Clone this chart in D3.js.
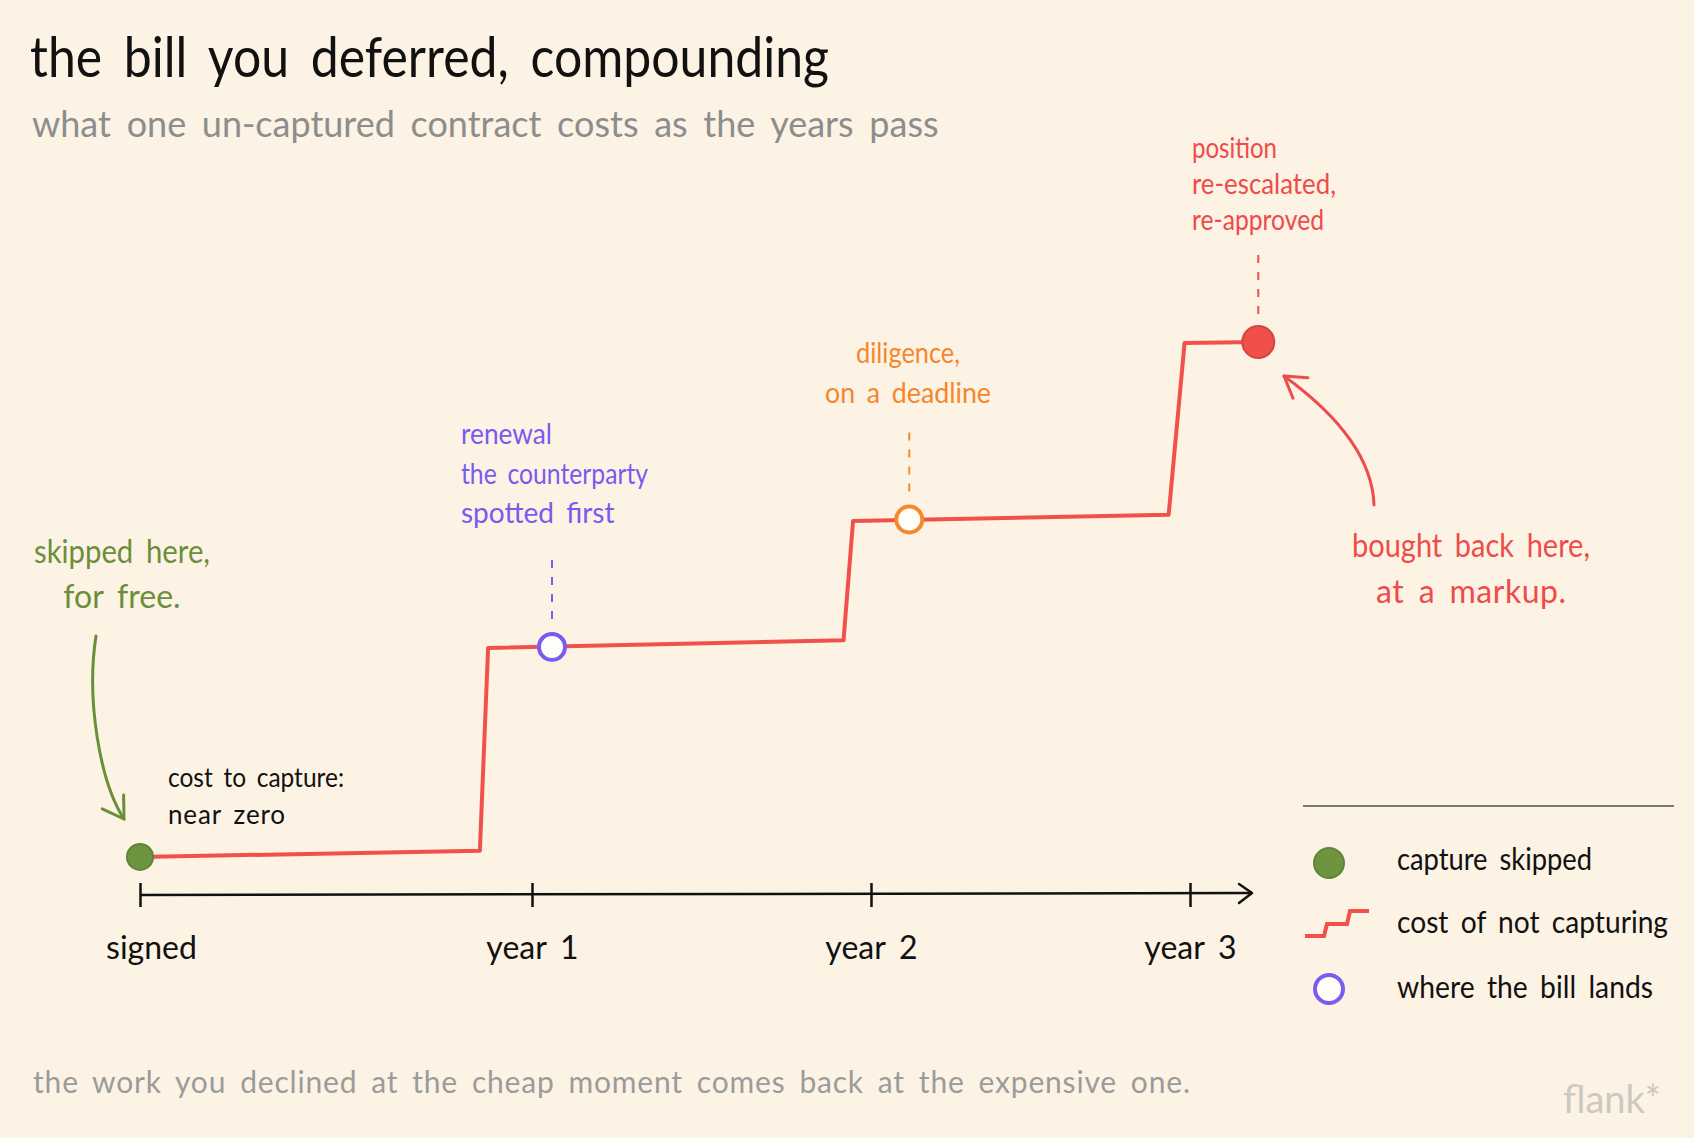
<!DOCTYPE html>
<html>
<head>
<meta charset="utf-8">
<script src="https://cdn.jsdelivr.net/npm/d3@7"></script>
<style>
  html, body { margin: 0; padding: 0; background: #fcf3e4; }
  svg { display: block; }
  text { font-family: Lato, "Open Sans", sans-serif; word-spacing: 0.18em; }
</style>
</head>
<body>
<svg id="chart" width="1694" height="1138"></svg>
<script>
/**
 * DATA
 */
// axis
var tickValues = [0, 1, 2, 3];
var tickLabels = ["signed", "year 1", "year 2", "year 3"];

// stepped cost line: years since signing, relative cost (top = 100)
var stepYears = [0, 0.867, 0.888, 1.919, 1.947, 2.933, 2.983, 3.214];
var stepCost  = [0.2, 1.4, 40.7, 42.2, 65.3, 66.5, 99.8, 100];

// the moments on the line
var markerYears  = [0, 1.059, 2.12, 3.214];
var markerCost   = [0.2, 40.9, 65.6, 100];
var markerKinds  = ["solid", "ring", "ring", "solid"];
var markerColors = ["#6f9440", "#7a5cf0", "#f5892e", "#f04f4a"];

var legendLabels = ["capture skipped", "cost of not capturing", "where the bill lands"];

var titleText    = "the bill you deferred, compounding";
var subtitleText = "what one un-captured contract costs as the years pass";
var footerText   = "the work you declined at the cheap moment comes back at the expensive one.";

var skippedNote    = ["skipped here,", "for free."];
var captureNote    = ["cost to capture:", "near zero"];
var renewalNote    = ["renewal", "the counterparty", "spotted first"];
var diligenceNote  = ["diligence,", "on a deadline"];
var escalationNote = ["position", "re-escalated,", "re-approved"];
var boughtNote     = ["bought back here,", "at a markup."];

/**
 * SETUP
 */
var svg = d3.select("#chart");
var AXIS_Y = 895;
var LINE_RED = "#f0524b";

// years -> x, hand drawn so the years are not evenly spaced
var xScale = d3.scaleLinear().domain([0, 1, 2, 3]).range([140, 532, 871, 1190]);
var yScale = d3.scaleLinear().domain([0, 100]).range([858, 342]);

// squeeze or widen a text so it covers the same width as in the sketch
function fitText(sel, target) {
    sel.each(function() {
        var w = this.getComputedTextLength();
        if (Math.abs(w - target) / target > 0.02) {
            d3.select(this)
                .attr("textLength", target)
                .attr("lengthAdjust", w > target ? "spacingAndGlyphs" : "spacing");
        }
    });
}

// block of lines, one width per line
function drawNote(lines, x, y0, dy, anchor, color, size, widths) {
    lines.forEach(function(line, i) {
        var t = svg.append("text")
            .attr("x", x)
            .attr("y", y0 + i * dy)
            .attr("text-anchor", anchor)
            .attr("fill", color)
            .attr("font-size", size)
            .text(line);
        fitText(t, widths[i]);
    });
}

// open arrow head at tip, dir = unit vector the stroke travels in
function arrowHead(tip, dir, color) {
    var len = 24, ang = 32 * Math.PI / 180;
    var back = [-dir[0], -dir[1]];
    function rot(v, a) {
        return [v[0] * Math.cos(a) - v[1] * Math.sin(a), v[0] * Math.sin(a) + v[1] * Math.cos(a)];
    }
    var a = rot(back, ang), b = rot(back, -ang);
    svg.append("path")
        .attr("d", "M" + (tip[0] + a[0] * len) + "," + (tip[1] + a[1] * len) +
                   "L" + tip[0] + "," + tip[1] +
                   "L" + (tip[0] + b[0] * len) + "," + (tip[1] + b[1] * len))
        .attr("fill", "none")
        .attr("stroke", color)
        .attr("stroke-width", 3)
        .attr("stroke-linecap", "round")
        .attr("stroke-linejoin", "round");
}

function unit(from, to) {
    var dx = to[0] - from[0], dy = to[1] - from[1];
    var l = Math.sqrt(dx * dx + dy * dy);
    return [dx / l, dy / l];
}

/**
 * TITLES
 */
var t = svg.append("text").attr("x", 30).attr("y", 77)
    .attr("font-size", 56).attr("fill", "#111").text(titleText);
fitText(t, 799);

t = svg.append("text").attr("x", 32).attr("y", 137)
    .attr("font-size", 36).attr("fill", "#8d8d8d").text(subtitleText);
fitText(t, 905);

t = svg.append("text").attr("x", 33).attr("y", 1093)
    .attr("font-size", 30).attr("fill", "#9b9b9b").text(footerText);
fitText(t, 1157);

t = svg.append("text").attr("x", 1563).attr("y", 1113)
    .attr("font-size", 38).attr("fill", "#cdc8c0").text("flank*");
fitText(t, 99);

/**
 * AXIS
 */
var axisG = svg.append("g")
    .attr("transform", "translate(0," + AXIS_Y + ")")
    .call(d3.axisBottom(xScale)
        .tickValues(tickValues)
        .tickFormat(function(d, i) { return tickLabels[i]; })
        .tickSize(12));

axisG.attr("font-family", null).attr("font-size", null);
axisG.select(".domain").remove();
axisG.selectAll(".tick line")
    .attr("y1", -12).attr("y2", 12)
    .attr("stroke", "#111").attr("stroke-width", 2.5);
axisG.selectAll(".tick text")
    .attr("y", 64).attr("dy", 0)
    .attr("dx", function(d, i) { return i === 0 ? 11 : 0; })
    .attr("font-size", 32).attr("fill", "#111");

var axisEnd = 1252;
axisG.append("path")
    .attr("d", "M" + xScale(0) + ",0L" + axisEnd + ",-2")
    .attr("stroke", "#111").attr("stroke-width", 2.5).attr("fill", "none");
axisG.append("path")
    .attr("d", "M" + (axisEnd - 13) + ",-11L" + axisEnd + ",-2L" + (axisEnd - 13) + ",8")
    .attr("stroke", "#111").attr("stroke-width", 2.5).attr("fill", "none")
    .attr("stroke-linecap", "round").attr("stroke-linejoin", "round");

/**
 * STEP LINE
 */
var stepPoints = stepYears.map(function(d, i) { return { t: d, c: stepCost[i] }; });

var drawLine = d3.line()
    .x(function(d) { return xScale(d.t); })
    .y(function(d) { return yScale(d.c); })
    .curve(d3.curveLinear);

svg.append("path")
    .attr("d", drawLine(stepPoints))
    .attr("fill", "none")
    .attr("stroke", LINE_RED)
    .attr("stroke-width", 4)
    .attr("stroke-linejoin", "round")
    .attr("stroke-linecap", "round");

/**
 * LEADERS + MARKERS
 */
// dashed leaders above the three event markers
[1, 2, 3].forEach(function(i) {
    var mx = xScale(markerYears[i]), my = yScale(markerCost[i]);
    svg.append("line")
        .attr("x1", mx).attr("x2", mx)
        .attr("y1", my - 28).attr("y2", my - 92)
        .attr("stroke", markerColors[i])
        .attr("stroke-width", 2)
        .attr("stroke-dasharray", "8,9");
});

svg.selectAll(".marker")
    .data(markerYears)
    .enter().append("circle")
    .attr("class", "marker")
    .attr("cx", function(d) { return xScale(d); })
    .attr("cy", function(d, i) { return yScale(markerCost[i]); })
    .attr("r", function(d, i) { return i === 3 ? 16 : 13; })
    .attr("fill", function(d, i) { return markerKinds[i] === "solid" ? markerColors[i] : "#fffdf8"; })
    .attr("stroke", function(d, i) {
        return markerKinds[i] === "solid" ? d3.color(markerColors[i]).darker(0.35) : markerColors[i];
    })
    .attr("stroke-width", function(d, i) { return markerKinds[i] === "solid" ? 2 : 4; });

/**
 * ANNOTATIONS
 */
drawNote(skippedNote, 122, 563, 45, "middle", "#6b8e3a", 32, [176, 119]);
drawNote(captureNote, 168, 787, 37, "start", "#111", 26, [176, 117]);
drawNote(renewalNote, 461, 444, 39.5, "start", "#7a5af0", 28, [91, 187, 151]);
drawNote(diligenceNote, 908, 363, 40, "middle", "#f5862c", 28, [104, 166]);
drawNote(escalationNote, 1192, 158, 36, "start", "#ef4b4b", 28, [85, 144, 132]);
drawNote(boughtNote, 1471, 557, 46, "middle", "#ef4b4b", 32, [238, 190]);

// green arrow down to the signing point
var gS = [96, 636], gC1 = [86, 700], gC2 = [100, 782], gE = [124, 819];
svg.append("path")
    .attr("d", "M" + gS + "C" + gC1 + " " + gC2 + " " + gE)
    .attr("fill", "none").attr("stroke", "#6b8e3a").attr("stroke-width", 3)
    .attr("stroke-linecap", "round");
arrowHead(gE, unit(gC2, gE), "#6b8e3a");

// red arrow up to the buy-back point
var rS = [1374, 505], rC = [1372, 440], rE = [1284, 376];
svg.append("path")
    .attr("d", "M" + rS + "Q" + rC + " " + rE)
    .attr("fill", "none").attr("stroke", "#ef4b4b").attr("stroke-width", 3)
    .attr("stroke-linecap", "round");
arrowHead(rE, unit(rC, rE), "#ef4b4b");

/**
 * LEGEND
 */
svg.append("line")
    .attr("x1", 1303).attr("x2", 1674).attr("y1", 806).attr("y2", 806)
    .attr("stroke", "#7a7a7a").attr("stroke-width", 2);

var legend = svg.selectAll(".legend")
    .data(legendLabels)
    .enter().append("g")
    .attr("class", "legend")
    .attr("transform", function(d, i) { return "translate(1329," + (863 + i * 63) + ")"; });

legend.each(function(d, i) {
    var g = d3.select(this);
    if (i === 0) {
        g.append("circle").attr("r", 15)
            .attr("fill", markerColors[0]).attr("stroke", d3.color(markerColors[0]).darker(0.35)).attr("stroke-width", 2);
    } else if (i === 1) {
        g.append("path")
            .attr("d", "M-24,10L-5,10L-2,-2L18,-2L21,-15L40,-15")
            .attr("fill", "none").attr("stroke", LINE_RED).attr("stroke-width", 4)
            .attr("stroke-linejoin", "miter");
    } else {
        g.append("circle").attr("r", 14)
            .attr("fill", "#fffdf8").attr("stroke", markerColors[1]).attr("stroke-width", 4);
    }
});

var legendWidths = [195, 271, 256];
legend.append("text")
    .attr("x", 68)
    .attr("y", function(d, i) { return [7, 7, 9][i]; })
    .attr("font-size", 30)
    .attr("fill", "#111")
    .text(function(d) { return d; })
    .each(function(d, i) { fitText(d3.select(this), legendWidths[i]); });
</script>
</body>
</html>
